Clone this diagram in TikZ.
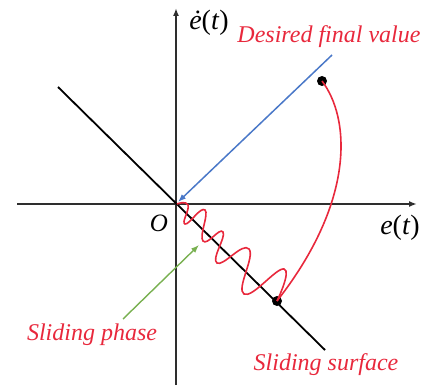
\documentclass[tikz,border=0pt]{standalone}
\usepackage{fontspec}
\setmainfont{Liberation Serif}
\usetikzlibrary{arrows.meta}
\definecolor{myred}{HTML}{E8283C}
\definecolor{myblue}{HTML}{4A78C8}
\definecolor{mygreen}{HTML}{78B050}
\definecolor{axisgray}{HTML}{2E2E2E}
\begin{document}
\begin{tikzpicture}[x=1pt,y=-1pt,
  axisline/.style={draw=axisgray,line width=1.9pt,-{Latex[length=8pt,width=6pt]}},
  surfline/.style={draw=black,line width=1.8pt},
  traj/.style={draw=myred,line width=1.6pt},
  dotmark/.style={circle,fill=black,inner sep=0pt,minimum size=10pt},
  redlabel/.style={text=myred,font=\itshape\fontsize{24}{26}\selectfont,inner sep=0pt},
  mathlabel/.style={font=\fontsize{28}{30}\selectfont,inner sep=0pt}]
\useasboundingbox (0,0) rectangle (422,385);
% coordinates
\coordinate (O) at (176,204);
\coordinate (xl) at (17,204);
\coordinate (xr) at (417,204);
\coordinate (yb) at (176,385);
\coordinate (yt) at (176,8);
\coordinate (sl) at (58,87);
\coordinate (sr) at (325,350);
\coordinate (bstart) at (332,55);
\coordinate (bend) at (178,202);
\coordinate (gstart) at (123,319);
\coordinate (gend) at (199,245);
% axes
\draw[axisline] (xl) -- (xr);
\draw[axisline] (yb) -- (yt);
% sliding surface
\draw[surfline] (sl) -- (sr);
% blue arrow
\draw[draw=myblue,line width=1.5pt,-{Latex[length=8pt,width=6pt]}] (bstart) -- (bend);
% green arrow
\draw[draw=mygreen,line width=1.4pt,-{Latex[length=8pt,width=6pt]}] (gstart) -- (gend);
% dots
\node[dotmark] (p0) at (322,81) {};
\node[dotmark] (p1) at (277,301) {};
% trajectory
\draw[traj] (p0.center) .. controls (350,118) and (356,200) .. (p1.center);
\draw[traj] plot[smooth,tension=0.85] coordinates {(277,301) (284,269) (244,294) (249,249) (217,263) (223,232) (203,241) (205,210) (185,224) (188,205) (177,204)};
% labels
\node[mathlabel] (edot) at (209,23) {\textit{ė}(\textit{t})};
\node[mathlabel] (e) at (400,228) {\textit{e}(\textit{t})};
\node[mathlabel,font=\itshape\fontsize{25}{27}\selectfont] (olab) at (159,223) {O};
\node[redlabel] (lab1) at (329,37) {Desired final value};
\node[redlabel] (lab2) at (92,335) {Sliding phase};
\node[redlabel] (lab3) at (326,365) {Sliding surface};
\end{tikzpicture}
\end{document}
